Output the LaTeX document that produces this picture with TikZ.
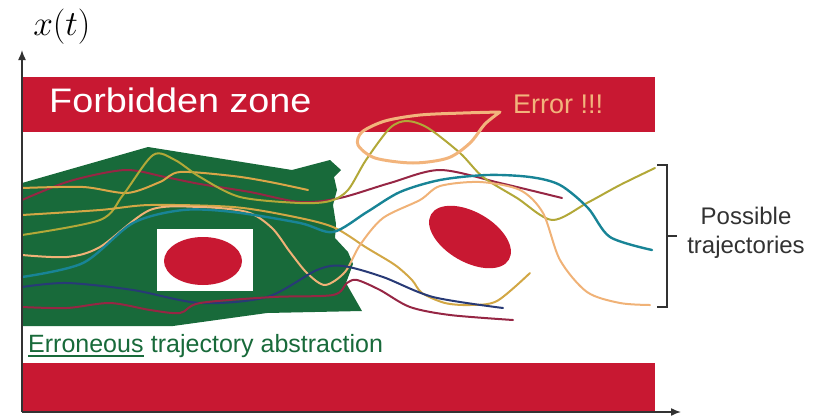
\documentclass[tikz,border=0pt]{standalone}
\usepackage{fontspec}
\usetikzlibrary{arrows.meta}
\newfontfamily\labelfont{Liberation Sans}
\definecolor{zonered}{RGB}{200,24,50}
\definecolor{abstgreen}{RGB}{24,106,58}
\definecolor{trajmaroon}{RGB}{150,38,68}
\definecolor{trajolive}{RGB}{178,168,56}
\definecolor{trajgold}{RGB}{218,166,72}
\definecolor{trajpeach}{RGB}{242,180,124}
\definecolor{trajteal}{RGB}{24,132,150}
\definecolor{trajnavy}{RGB}{40,58,118}
\definecolor{axisgray}{RGB}{50,50,50}

\begin{document}
\begin{tikzpicture}[x=1pt, y=-1pt,
    traj/.style={line width=2pt, line cap=round, line join=round},
    axisline/.style={draw=axisgray, line width=1.5pt, -{Latex[length=10pt, width=8pt]}},
    txt/.style={inner sep=0pt, font=\labelfont}
]
    \useasboundingbox (0,0) rectangle (820,416);

    % Forbidden zones
    \fill[zonered] (22,77) rectangle (655,132);
    \fill[zonered] (22,363) rectangle (655,412);

    % Abstraction
    \fill[abstgreen] (22,183) -- (148,147) -- (292,170) -- (330,160) -- (341,170)
        -- (334,177) -- (337,190) -- (333,205) -- (336,224) -- (335,238) -- (348,252)
        -- (353,264) -- (346,283) -- (362,311) -- (267,313) -- (173,326) -- (22,326) -- cycle;
    \fill[white] (157,229) rectangle (253,291);
    \fill[zonered] (203,261) ellipse [x radius=39, y radius=24];

    % Obstacle
    \fill[zonered, rotate around={-30:(470,237)}] (470,237) ellipse [x radius=45, y radius=25];

    % Trajectories
    \draw[traj, trajmaroon] plot[smooth] coordinates {(22,200) (70,181) (125,170) (165,177)
        (200,184) (250,192) (300,202) (340,198) (390,183) (440,170) (500,183) (562,198)};
    \draw[traj, trajgold] plot[smooth] coordinates {(22,188) (83,187) (127,193) (160,182)
        (180,172) (233,176) (270,182) (308,190)};
    \draw[traj, trajolive] plot[smooth] coordinates {(22,235) (100,220) (123,195) (153,155)
        (175,160) (200,177) (240,197) (300,203) (330,201) (348,190) (366,160) (390,128)
        (407,121) (428,128) (460,153) (483,177) (517,198) (552,220) (587,203) (620,185) (655,168)};
    \draw[traj, trajgold!80!trajolive] plot[smooth] coordinates {(22,215) (100,210) (150,205)
        (233,207) (290,216) (333,227) (367,248) (395,265) (412,280) (422,293) (445,303)
        (470,305) (497,301) (530,273)};
    \draw[traj, trajpeach!90!trajgold] plot[smooth] coordinates {(22,255) (67,257) (100,247)
        (150,210) (200,207) (247,212) (272,228) (290,252) (307,273) (325,285) (345,272)
        (360,245) (383,218) (420,200) (440,186) (480,182) (520,190) (543,213) (560,260)
        (587,292) (620,303) (650,305)};
    \draw[traj, trajteal, line width=2.4pt] plot[smooth] coordinates {(22,277) (83,263)
        (133,223) (183,210) (233,212) (300,223) (333,232) (367,212) (400,192) (440,180)
        (487,175) (530,177) (560,185) (588,208) (610,237) (652,250)};
    \draw[traj, trajnavy] plot[smooth] coordinates {(22,287) (67,283) (133,290) (200,303)
        (267,297) (317,270) (343,266) (383,277) (433,297) (503,308)};
    \draw[traj, trajmaroon] plot[smooth] coordinates {(22,307) (67,308) (110,303) (150,310)
        (180,313) (200,303) (273,297) (333,295) (347,283) (357,280) (380,290) (410,307)
        (450,315) (513,320)};
    \draw[traj, trajpeach, line width=3pt] plot[smooth] coordinates {(500,112) (463,113)
        (420,115) (385,121) (362,132) (358,145) (375,158) (413,163) (448,158) (470,143)
        (485,124) (500,112)};

    % Bracket
    \draw[axisgray, line width=2pt] (657,165) -- (667,165) -- (667,307) -- (657,307);
    \draw[axisgray, line width=2pt] (667,236) -- (677,236);

    % Axes
    \coordinate (origin) at (22,412);
    \coordinate (ytip) at (22,50);
    \coordinate (xtip) at (681,412);
    \draw[axisline] (origin) -- (ytip);
    \draw[axisline] (origin) -- (xtip);

    % Labels
    \node[inner sep=0pt, anchor=base west, font=\Huge, scale=1.42, transform shape] (xlabel) at (33,35) {$x(t)$};
    \node[txt, anchor=base west, text=white, font=\labelfont\fontsize{34}{38}\selectfont, xscale=1.11, transform shape] (forbidden) at (49,112) {Forbidden zone};
    \node[txt, anchor=base west, text=trajpeach, font=\labelfont\fontsize{27}{30}\selectfont] (error) at (513,113) {Error !!!};
    \node[txt, anchor=base west, text=abstgreen, font=\labelfont\fontsize{25}{28}\selectfont] (erroneous) at (28,352) {Erroneous};
    \node[txt, anchor=base west, text=abstgreen, font=\labelfont\fontsize{25}{28}\selectfont, xshift=7pt] (abstraction) at (erroneous.base east) {trajectory abstraction};
    \draw[abstgreen, line width=1.6pt] ([yshift=-3.8pt]erroneous.base west) -- ([yshift=-3.8pt]erroneous.base east);
    \node[txt, align=center, text=axisgray, font=\labelfont\fontsize{24}{29}\selectfont] (possible) at (746,233) {Possible\\trajectories};
\end{tikzpicture}
\end{document}
